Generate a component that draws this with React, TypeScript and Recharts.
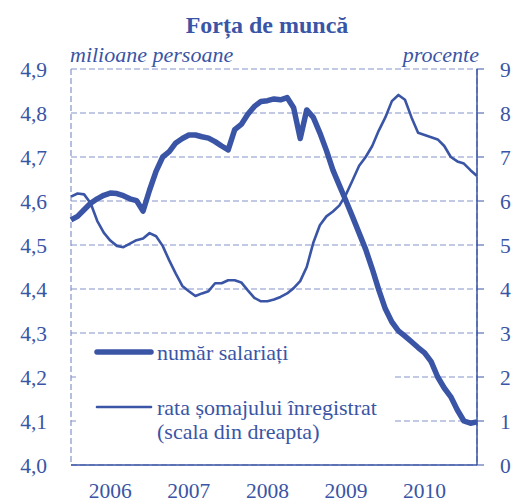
import React from "react";
import { LineChart, Line, XAxis, YAxis, CartesianGrid } from "recharts";

const BLUE = "#3a55a5";
const GRID = "#8494cb";
const FONT = '"Liberation Serif", "Times New Roman", serif';

// months since Jan 2006
const employees = [
  4.557, 4.565, 4.58, 4.595, 4.605, 4.613, 4.618, 4.617, 4.612, 4.605, 4.601, 4.577,
  4.625, 4.668, 4.7, 4.712, 4.732, 4.742, 4.75, 4.75, 4.746, 4.743, 4.735, 4.725,
  4.716, 4.762, 4.774, 4.797, 4.815, 4.826, 4.828, 4.832, 4.83, 4.835, 4.812, 4.742,
  4.807, 4.79, 4.755, 4.715, 4.67, 4.635, 4.6, 4.564, 4.527, 4.49, 4.446, 4.398,
  4.355, 4.325, 4.305, 4.293, 4.28, 4.267, 4.255, 4.235, 4.2, 4.175, 4.155, 4.125,
  4.1, 4.095, 4.098,
];
const unemployment = [
  6.1, 6.17, 6.15, 5.95, 5.55, 5.28, 5.1, 4.98, 4.95, 5.03, 5.11, 5.15,
  5.27, 5.2, 4.98, 4.65, 4.35, 4.07, 3.95, 3.84, 3.9, 3.95, 4.13, 4.13,
  4.2, 4.2, 4.15, 3.97, 3.8, 3.72, 3.72, 3.76, 3.82, 3.9, 4.02, 4.18,
  4.5, 5.05, 5.45, 5.65, 5.76, 5.9, 6.15, 6.47, 6.8, 7.0, 7.25, 7.6,
  7.9, 8.27, 8.41, 8.3, 7.9, 7.55, 7.5, 7.45, 7.4, 7.25, 7.0, 6.9,
  6.85, 6.7, 6.57,
];
const yearLabels = ["2006", "2007", "2008", "2009", "2010"];
const yearBoundaries = [0, 12, 24, 36, 48, 60];
const yearMiddles = [6, 18, 30, 42, 54];
const leftTicks = [4.0, 4.1, 4.2, 4.3, 4.4, 4.5, 4.6, 4.7, 4.8, 4.9];
const rightTicks = [0, 1, 2, 3, 4, 5, 6, 7, 8, 9];

const data = employees.map((v, i) => ({ m: i, emp: v, unemp: unemployment[i] }));

export default function App() {
  const tickStyle = { fill: BLUE, fontSize: 21.5, fontFamily: FONT };
  return (
    <div
      style={{
        position: "absolute",
        left: 0,
        top: 0,
        width: 514,
        height: 502,
        background: "#fff",
        fontFamily: FONT,
      }}
    >
      <LineChart
        width={514}
        height={502}
        data={data}
        margin={{ top: 69, right: 0, bottom: 0, left: 0 }}
      >
        <CartesianGrid
          xAxisId="b"
          yAxisId="l"
          stroke={GRID}
          strokeDasharray="6 3"
          strokeWidth={1.2}
        />
        <XAxis
          xAxisId="b"
          dataKey="m"
          type="number"
          domain={[0, 62]}
          ticks={yearBoundaries}
          tick={false}
          height={6}
          tickSize={6}
          axisLine={{ stroke: BLUE, strokeWidth: 1.5 }}
          tickLine={{ stroke: BLUE, strokeWidth: 1.2 }}
          interval={0}
        />
        <XAxis
          xAxisId="y"
          dataKey="m"
          type="number"
          domain={[0, 62]}
          ticks={yearMiddles}
          tickFormatter={(v: number) => yearLabels[yearMiddles.indexOf(v)] ?? ""}
          height={31}
          axisLine={false}
          tickLine={false}
          tickSize={0}
          tickMargin={12}
          tick={tickStyle}
          interval={0}
        />
        <YAxis
          yAxisId="l"
          orientation="left"
          domain={[4.0, 4.9]}
          ticks={leftTicks}
          width={71}
          axisLine={false}
          tickLine={false}
          tickSize={0}
          tickMargin={24}
          tick={tickStyle}
          tickFormatter={(v: number) => v.toFixed(1).replace(".", ",")}
          interval={0}
        />
        <YAxis
          yAxisId="r"
          orientation="right"
          domain={[0, 9]}
          ticks={rightTicks}
          width={37}
          axisLine={{ stroke: BLUE, strokeWidth: 1.5 }}
          tickLine={{ stroke: BLUE, strokeWidth: 1 }}
          tickSize={7}
          tickMargin={16}
          tick={tickStyle}
          interval={0}
        />
        <Line
          xAxisId="b"
          yAxisId="r"
          dataKey="unemp"
          type="linear"
          stroke={BLUE}
          strokeWidth={2.6}
          dot={false}
          strokeLinejoin="round"
          isAnimationActive={false}
        />
        <Line
          xAxisId="b"
          yAxisId="l"
          dataKey="emp"
          type="linear"
          stroke={BLUE}
          strokeWidth={5.5}
          dot={false}
          strokeLinejoin="round"
          isAnimationActive={false}
        />
      </LineChart>
      <svg
        width={514}
        height={502}
        style={{ position: "absolute", left: 0, top: 0, pointerEvents: "none" }}
      >
        <text x={267} y={33} textAnchor="middle" fontSize={24} fontWeight="bold" fill={BLUE} fontFamily={FONT}>
          Forța de muncă
        </text>
        <text x={70} y={62} fontSize={22} fontStyle="italic" fill={BLUE} fontFamily={FONT}>
          milioane persoane
        </text>
        <text x={479} y={62} textAnchor="end" fontSize={22} fontStyle="italic" fill={BLUE} fontFamily={FONT}>
          procente
        </text>
        <rect x={76} y={336} width={319} height={113} fill="#fff" />
        <line x1={97} y1={352} x2={151} y2={352} stroke={BLUE} strokeWidth={5.5} strokeLinecap="round" />
        <text x={157} y={360} fontSize={22} fill={BLUE} fontFamily={FONT}>
          număr salariați
        </text>
        <line x1={97} y1={407} x2={151} y2={407} stroke={BLUE} strokeWidth={2.6} strokeLinecap="round" />
        <text x={157} y={415} fontSize={22} fill={BLUE} fontFamily={FONT}>
          rata șomajului înregistrat
        </text>
        <text x={157} y={439} fontSize={22} fill={BLUE} fontFamily={FONT}>
          (scala din dreapta)
        </text>
      </svg>
    </div>
  );
}
